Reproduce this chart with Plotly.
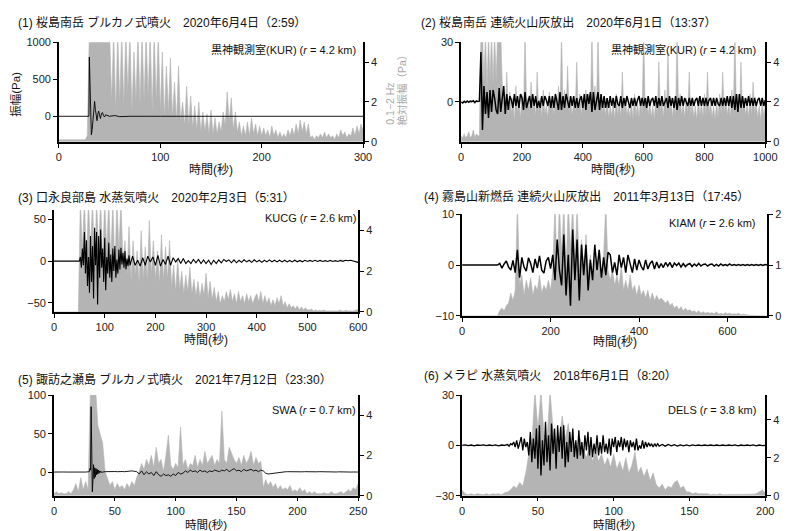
import numpy as np
import plotly.graph_objects as go

FONT = "Liberation Sans, Noto Sans CJK JP, sans-serif"
GRAY = "#b4b4b4"

# ---------------- titles / labels ----------------
TITLES = [
    "(1) 桜島南岳 ブルカノ式噴火　2020年6月4日（2:59）",
    "(2) 桜島南岳 連続火山灰放出　2020年6月1日（13:37）",
    "(3) 口永良部島 水蒸気噴火　2020年2月3日（5:31）",
    "(4) 霧島山新燃岳 連続火山灰放出　2011年3月13日（17:45）",
    "(5) 諏訪之瀬島 ブルカノ式噴火　2021年7月12日（23:30）",
    "(6) メラピ 水蒸気噴火　2018年6月1日（8:20）",
]
STATIONS = [
    "黒神観測室(KUR) (<i>r</i> = 4.2 km)",
    "黒神観測室(KUR) (<i>r</i> = 4.2 km)",
    "KUCG (<i>r</i> = 2.6 km)",
    "KIAM (<i>r</i> = 2.6 km)",
    "SWA (<i>r</i> = 0.7 km)",
    "DELS (<i>r</i> = 3.8 km)",
]
XTITLE = "時間(秒)"
YTITLE_LEFT = "振幅(Pa)"
YTITLE_RIGHT_1 = "0.1−2 Hz"
YTITLE_RIGHT_2 = "絶対振幅（Pa）"

# ---------------- axis ticks ----------------
X_TICKS = [[0, 100, 200, 300], [0, 200, 400, 600, 800, 1000], [0, 100, 200, 300, 400, 500, 600],
           [0, 200, 400, 600], [0, 50, 100, 150, 200, 250], [0, 50, 100, 150, 200]]
X_RANGES = [[0, 300], [0, 1000], [0, 600], [0, 690], [0, 250], [0, 200]]
WAVE_TICKS = [[0, 500, 1000], [0, 30], [-50, 0, 50], [-10, 0, 10], [0, 50, 100], [-30, 0, 30]]
WAVE_RANGES = [[-345, 1000], [-20, 30], [-61, 61], [-10, 10], [-30, 100], [-30, 30]]
ENV_TICKS = [[0, 2, 4], [0, 2, 4], [0, 2, 4], [0, 1, 2], [0, 2, 4], [0, 2, 4]]
ENV_RANGES = [[0, 5], [0, 5], [0, 5], [0, 2], [0, 5], [0, 5.3]]

# ---------------- data: 0.1-2 Hz absolute amplitude (gray, right axis) ----------------
P1_ENV_DT = 2.0
P1_ENV = [0.1]*14 + [0.3] + [5.5]*10 + [
    5.5, 2, 5.5, 1.5, 5.5, 2, 5.5, 1.8, 5.5, 2.5, 5.5, 1.5, 4.5, 2, 5.5, 1.8, 5.5, 2, 5.5, 2.2, 5.5, 1.5, 5.5, 2, 5.5, 1.5,
    4.5, 1.2, 3.8, 1.5, 4.2, 1.2, 3.0, 1.0, 3.8, 1.0, 2.0, 0.8, 2.8, 0.8, 2.3, 0.7, 1.8, 0.6, 2.0, 0.5, 1.5, 0.5, 1.4, 0.4,
    1.6, 0.4, 1.2, 0.4, 1.0, 0.5, 1.5, 0.8, 2.5, 1.0, 2.2, 0.6, 1.5, 0.5, 1.0, 0.3, 0.8, 0.3, 1.0, 0.3, 1.2, 0.4, 0.9, 0.3,
    0.8, 0.3, 0.7, 0.3, 0.6, 0.2, 0.8, 0.3, 0.6, 0.2, 0.5, 0.2, 0.4, 0.2, 0.6, 0.3, 0.7, 0.3, 0.9, 0.4, 1.1, 0.5, 1.0, 0.4,
    0.9, 0.2, 0.3, 0.1, 0.3, 0.2, 0.4, 0.2, 0.5, 0.2, 0.4, 0.2, 0.3, 0.1, 0.4, 0.2, 0.6, 0.3, 0.5, 0.2, 0.4, 0.3, 0.7, 0.3,
    0.8, 0.4, 0.9, 0.6]

P2_ENV_DT = 5.0
P2_ENV = [0.3, 0.2, 0.4, 0.2, 0.3, 0.5, 0.2, 0.3, 0.6, 0.2, 0.4, 0.3, 0.3,
          5.5, 5.5, 3, 5.5, 2.5, 5.5, 3, 5.5, 2.8, 5.5, 3, 5.5, 5.5, 5.5, 3,
          2.0, 1.5, 3.5, 1.2, 2.5, 1.4, 2.2, 1.0, 2.8, 1.5, 2.0, 1.2, 2.4, 1.3, 5.5, 1.8, 2.2, 1.5, 3.0, 1.6,
          2.0, 1.3, 3.5, 1.5, 2.2, 1.2, 2.6, 1.4, 1.8, 1.2, 2.5, 1.6, 2.0, 1.3, 2.4, 1.5, 2.8, 1.4, 5.5, 1.8,
          2.6, 1.5, 3.8, 1.4, 2.2, 1.3, 2.0, 1.5, 4.0, 1.6, 2.4, 1.3, 2.2, 1.5, 2.6, 1.8, 2.4, 1.5, 5.5, 2.0,
          2.8, 1.6, 5.5, 1.8, 2.4, 1.4, 2.0, 1.3, 2.2, 1.2, 1.8, 1.3, 2.0, 1.1, 2.4, 1.3, 2.0, 1.2, 3.5, 1.4,
          2.2, 1.3, 1.8, 1.2, 2.0, 1.1, 2.4, 1.3, 1.9, 1.2, 2.2, 1.4, 5.5, 1.6, 2.2, 1.3, 2.0, 1.2, 1.8, 1.1,
          2.2, 1.3, 4.0, 1.5, 2.0, 1.2, 2.6, 1.3, 4.5, 1.4, 2.2, 1.2, 2.0, 1.3, 5.5, 1.5, 2.4, 1.3, 2.0, 1.2,
          2.2, 1.4, 3.5, 1.3, 2.0, 1.2, 1.8, 1.1, 2.2, 1.3, 2.0, 1.2, 2.4, 1.3, 3.5, 1.4, 2.0, 1.2, 1.8, 1.1,
          2.0, 1.2, 2.4, 1.3, 3.5, 1.4, 2.2, 1.3, 2.0, 1.2, 2.6, 1.4, 5.5, 1.6, 2.4, 1.3, 4.0, 1.4, 2.2, 1.3,
          2.0, 1.2, 2.4, 1.3, 3.0, 1.4, 2.0, 1.2, 1.8, 1.1, 2.0, 1.3, 1.8]

P3_ENV_DT = 4.0
P3_ENV = [0]*13 + [
    5.5, 3, 5.5, 2.5, 5.5, 3, 5.5, 2, 5.5, 3, 5.5, 2.5, 5.5, 3, 5.5, 2.5, 5.5, 2, 5.5, 3, 5.5, 2.5,
    3.5, 1.8, 4.2, 1.5, 3.5, 1.8, 3.0, 1.4, 4.0, 1.6, 3.2, 1.5, 4.5, 1.8, 3.5, 1.6, 3.0, 1.4, 3.8, 1.5, 3.2, 1.6, 3.5,
    1.2, 2.3, 1.0, 2.6, 1.1, 2.0, 0.9, 1.8, 1.0, 2.2, 0.9, 1.6, 0.8, 1.5, 0.7, 1.4, 0.8, 1.9,
    0.7, 1.5, 0.6, 1.2, 0.5, 1.0, 0.4, 0.8, 0.5, 1.0, 0.6, 1.1, 0.5, 0.9, 0.4, 1.0, 0.5, 0.8, 0.4, 0.9, 0.5, 0.8, 0.4, 0.7, 0.9,
    0.5, 1.0, 0.4, 0.8, 0.4, 0.7, 0.3, 0.6, 0.3, 0.7, 0.4, 0.8, 0.3, 0.5, 0.2, 0.4, 0.2, 0.3, 0.15, 0.3, 0.1, 0.25, 0.1, 0.2, 0.1,
    0.1, 0.15, 0.05, 0.1, 0.05, 0.08, 0.05, 0.1, 0.05, 0.05, 0.05, 0.08, 0.05, 0.05, 0.05, 0.1, 0.05, 0.05, 0.08, 0.05, 0.05, 0.08, 0.05, 0.1, 0.1]

P4_ENV_DT = 5.0
P4_ENV = [0]*17 + [
    0.1, 0.15, 0.1, 0.2, 0.25, 0.45, 0.3, 0.5, 2.2, 0.6,
    0.8, 0.4, 0.7, 0.5, 0.75, 0.4, 0.6, 0.5, 0.8, 0.45, 0.6, 0.5, 0.7, 0.5, 0.9,
    2.2, 0.8, 2.2, 1.2, 2.2, 0.9, 2.2, 1.3, 2.2, 1.0, 2.2, 0.9, 1.5, 0.8, 1.6, 0.9, 1.2, 0.7, 1.1, 0.8, 1.3, 0.7, 1.2, 2.2, 0.9,
    0.7, 0.9, 0.6, 0.8, 0.6, 1.0, 0.5, 0.7, 0.5, 0.8, 0.5, 0.6, 0.4, 0.6, 0.4, 0.5, 0.35, 0.5, 0.3, 0.45, 0.3, 0.4, 0.3, 0.35,
    0.3, 0.25, 0.3, 0.2, 0.25, 0.15, 0.2, 0.12, 0.18, 0.1, 0.15, 0.1, 0.12, 0.08, 0.1, 0.06, 0.1, 0.05, 0.08, 0.05, 0.07, 0.05,
    0.06, 0.04, 0.08, 0.03, 0.05, 0.03, 0.06, 0.04, 0.05, 0.03, 0.04, 0.03, 0.05, 0.02, 0.03, 0.02, 0.02, 0.01, 0.01, 0.01, 0.01, 0, 0, 0, 0, 0]

P5_ENV_DT = 2.0
P5_ENV = [0.1, 0.2, 0.1, 0.15, 0.1, 0.1, 0.2, 0.1, 0.3, 0.6, 0.2, 0.9, 0.3, 0.7, 0.3,
          5.5, 5.5, 5.5, 3.5, 3.0, 2.6, 1.2, 0.8, 0.5, 0.7,
          0.3, 0.6, 0.4, 0.5, 0.3, 0.6, 0.4, 0.7, 0.5, 0.9,
          1.2, 1.6, 1.3, 1.8, 1.5, 2.0, 1.4, 2.4, 1.6, 1.8, 1.2, 2.0, 3.0, 1.5, 1.3,
          1.6, 1.4, 3.4, 1.5, 1.8, 1.3, 1.6, 1.5, 2.0, 1.4, 1.8, 1.5, 2.2, 1.6, 1.8,
          2.0, 1.5, 1.8, 1.6, 4.2, 1.8, 1.6, 2.4, 2.1, 1.8, 1.6, 1.9, 1.5, 2.0, 1.6,
          1.8, 2.2, 1.5, 1.9, 1.6, 1.7, 0.4, 0.8, 0.5, 0.7, 0.4, 0.6, 0.3, 0.5, 0.3,
          0.4, 0.3, 0.5, 0.2, 0.3, 0.2, 0.4, 0.2, 0.3, 0.1, 0.2, 0.1, 0.2, 0.1, 0.1,
          0.1, 0.15, 0.1, 0.1, 0.2, 0.1, 0.1, 0.15, 0.2, 0.1, 0.2, 0.3, 0.2, 0.4, 0.3, 0.6]

P6_ENV_DT = 2.0
P6_ENV = [0.3, 0.1, 0.05, 0.1, 0.05, 0.1, 0.08, 0.05, 0.1, 0.05, 0.1, 0.08, 0.1, 0.05, 0.15,
          0.2, 0.3, 0.5, 0.4, 0.7, 0.5, 1.2, 2.2, 2.8, 5.5,
          3.5, 5.5, 3.2, 3.0, 5.5, 3.5, 3.0, 2.8, 4.2, 3.0,
          3.8, 2.6, 2.8, 2.2, 3.0, 2.4, 2.0, 2.6, 1.8, 2.4, 1.8, 2.2, 1.6, 2.0, 1.5,
          2.2, 1.4, 1.8, 1.3, 2.0, 1.2, 1.6, 2.3, 1.2, 1.5, 1.0, 1.4, 0.8, 1.2, 0.6,
          0.4, 0.6, 0.3, 0.5, 0.4, 0.7, 0.8, 0.4, 0.5, 0.2, 0.2, 0.1, 0.15, 0.1, 0.1,
          0.08, 0.1, 0.05, 0.08, 0.05, 0.1, 0.05, 0.05, 0.08, 0.05, 0.05, 0.05, 0.08, 0.05, 0.05,
          0.05, 0.08, 0.1, 0.2, 0.3, 0.15]

# ---------------- data: pressure waveforms (black, left axis) ----------------
P1_WAVE_T = [0, 29, 29.6, 30, 30.6, 31.2, 32, 32.8, 33.6, 34.4, 35.2, 36, 36.8, 37.6, 38.4, 39.2, 40, 41, 42, 43,
             44, 45, 46, 48, 50, 55, 60, 70, 80, 90, 100, 300]
P1_WAVE = [0, 0, 0, 800, 350, -100, -250, -180, -20, 120, 200, 90, -40, -60, 30, 70, 20, -30, 40, 50,
           10, -10, 20, 5, 0, 10, -5, 0, 5, 0, 0, 0]

P2_WAVE_DT = 5.0
P2_WAVE = [0, -0.5, 0.3, -0.3, 0.5, -0.2, 0.4, 0.2, 0.6, -0.3, 0.5, 0.2, 0.4, 25, -14, 8, -6, 5, -8, 6,
           -5, 6, 2, -4, -6, 7, -5, 1, 8, -6, 4, -4, 3, 1, -3, 4, -2, 3, -3, 4,
           2, -4, 5, -3, 1, 3, -3, 4, -2, 3, -3, 0.5, -3, 3, -2, 3, 1, -2, 3, -3,
           3, -3, 4, -1, -4, 5, -4, 3, -3, 4, 1, -3, 3, -2, 3, -3, 2, -3, 1, 3,
           -3, 4, -4, 4, -1, 5, -5, 5, -4, 1, 5, -4, 4, -3, 3, -3, 2, -3, 3, -2,
           2, -3, 3, -1, -2, 3, -3, 2, -2, 3, 0, -3, 2, -2, 2, -2, 1, 3, -2, 2,
           -2, 2, -3, 3, -2, 1, 2, -2, 3, -3, 2, -2, 3, -2, 0, 2, -3, 3, -2, 2,
           -3, 3, -4, 2, -2, 3, -2, 2, 0, -2, 2, -2, 2, -2, 1, 2, -2, 3, -2, 2,
           -2, 2, -2, 1, 2, -2, 2, -2, 2, -1, -2, 2, -2, 2, -2, 3, -2, 3, -3, 3,
           -4, 4, -5, 4, -3, 3, -3, 2, -2, 3, -2, 2, -2, 2, -2, 1, 2, -2, 2, -2, 1]

P3_WAVE_PRE_T = [0, 48]
P3_WAVE_PRE = [0, 0]
P3_WAVE_A_START, P3_WAVE_A_DT = 50.0, 2.0
P3_WAVE_A = [0, 5, -8, 15, -5, 35, -15, 25, -30, 5, -38, 30, -25, 18, -45, 40, -5, 35, -52, 30,
             -20, 38, -8, 15, -25, 28, -35, 5, -15, 22, -20, 8, -25, 15, -12, 18, -20, 2, -15, 14,
             -10, 16, -4, 10, -8, 12, -10, 3, -6, 7, -5]
P3_WAVE_B_START, P3_WAVE_B_DT = 155.0, 5.0
P3_WAVE_B = [6, -5, 1, -6, 4, -5, 6, -1, 5, -5, 7, -6, 2, -4, 6, -5, 4, -1, 3, -3,
             3, -3, 0.5, -3, 2, -2, 2, -3, 1.5, -3, 1, -4, 1, -3, 1.5, -2, 2, -0.5, 1.5, -2,
             1.5, -2, 1, -1.5, 1.5, -1, 1, -1.5, 1.5, -1, 1, -1.5, 1, -1, 1.5, -1, 1, -1, 1, -1,
             1, -1, 0.8, -1, 1, -0.8, 0.8, -0.8, 1, -0.5, 0.8, -0.5, 1, -0.5, 0.8, -0.5, 0.5, -0.5, 0.8, -0.5,
             0.5, -0.5, 0.8, -0.3, 1, 0.5, 1, 0, -1, -1.5]

P4_WAVE_DT = 5.0
P4_WAVE = [0]*17 + [
    0.3, -0.6, 0.2, 0.8, -0.4, -1, 0.9, -1.5, 3, -2.5,
    1.5, -0.4, -1.2, 1.4, 0.3, -1.5, 1.2, -0.6, 1.8, -1, -1.6, 0.8, 1.5, -0.7, 2,
    -3, 5, -1, -4, 6, -6, 2, -8, 7, -3, 5, -7, 4, -2, 4, -5, 1, -3, 4, -1, 3, -2.5, 1.5, -2, 2.5,
    2, -1.5, 0.5, -2, 2, -0.5, 1.5, -1.5, 2, 0.3, -1.5, 1.2, -1, 1, -0.3, -1, 1, -0.8, 0.3, 0.8, -0.8, 0.6, -0.6, 0.3,
    -0.5, 0.5, -0.2, 0.5, -0.5, 0.4, -0.1, 0.4, -0.4, 0.3, -0.3, 0.1, 0.3, -0.3, 0.2, -0.2, 0.3, -0.2, 0.1, 0.2, -0.2, 0.1,
    0.2, -0.2, 0.1, -0.2, 0.2, -0.1, 0.1, -0.1, 0.2, -0.1, 0.1, -0.1, 0.1, -0.1, 0.1, -0.1, 0.1, -0.1, 0.1, -0.1, 0.1, -0.1, 0.1, -0.1, 0.1, 0]

P5_WAVE_0_START, P5_WAVE_0_DT = 0.0, 2.0
P5_WAVE_0 = [0.5, 0.3, 0.5, 0.4, 0.6, 0.5, 0.4, 0.5, 0.6, 0.5, 0.4, 0.5, 0.6, 0.5, 0.8]
P5_WAVE_1_START, P5_WAVE_1_DT = 29.0, 0.5
P5_WAVE_1 = [1, 5, 3, 85, 40, -25, -10, 10, -8, 6, -6, 5, -3, 4, -2, 3, -1, 2, 0, 1.5, 0, 1, 0.5]
P5_WAVE_2_START, P5_WAVE_2_DT = 42.0, 2.0
P5_WAVE_2 = [1, 1.2, 1, 1.5, 1.2, 1, 1.5, 1.2, 1, 1.5, 1.5, 2, 1.5, 1, -2, 2, -3, 1, -2, 0,
             -4, 1, -3, -5, -2, -4, -3, -5, -2, -4, 0, -2, -1, 2, 0, 3, 1, 2, 0, 3,
             1, 2, 0, 2, 1, 3, 2, 1, 3, 2, 4, 1, 3, 5, 2, 3, 1, 4, 2, 3,
             4, 2, 3, 1, 3, 2, -1, -2, -1.5, -1, -0.5, 0, 0.5, 0.5, 0.8, 1, 0.8, 1, 0.8, 1,
             1, 0.8, 1, 0.8, 1, 0.8, 1, 0.8, 1, 0.8, 1, 0.8, 1, 0.8, 0.8, 0.6, 0.8, 0.6, 0.8, 0.6, 0.6, 0.5, 0.6, 0.5, 0.5]

P6_WAVE_0_START, P6_WAVE_0_DT = 0.0, 2.0
P6_WAVE_0 = [0, 0.3, -0.2, 0.2, -0.3, 0.2, 0, 0.3, -0.2, 0.2, -0.2, 0.3, -0.3, 0.2, 0]
P6_WAVE_1_START, P6_WAVE_1_DT = 30.0, 1.0
P6_WAVE_1 = [0.5, -0.5, 1, 0.3, 2, -1, 3, -2, 1, 5, -3, 4, -1, 2, -6, 8, -10, 4, -8, 10,
             -14, 12, -18, 3, -12, 14, -10, 6, -15, 13, -5, 10, -14, 12, -4, 11, -8, 12, -13, 2,
             -10, 8, -4, 10, -7, 3, -8, 9, -6, 2, -8, 6, -3, 8, -6, 5, -7, 1, -5, 6,
             -6, 2, -5, 6, -4, 1, -5, 4, -6, 4, -1, 5, -4, 3, -1, 5, -3, 4, -1, 3,
             -4, 3, -1, 2, -3, 4, -3, 0, -2, 3, -2, 2, -1, 1.5, -0.5, 1, -1, 1, -0.5, 1,
             -0.5]
P6_WAVE_2_START, P6_WAVE_2_DT = 132.0, 2.0
P6_WAVE_2 = [0.5, -0.5, 0.5, -0.3, 0.4, -0.4, 0.3, -0.3, 0.3, -0.3, 0.3, -0.2, 0.2, -0.2, 0.2, -0.2, 0.2, -0.2,
             0.2, -0.2, 0.2, -0.2, 0.2, -0.2, 0.3, -0.3, 0.2, -0.2, 0.2, -0.2, 0.3, -0.3, 0.2, -0.2, 0]


def sampled(values, start, dt):
    return list(start + dt * np.arange(len(values))), list(values)


def concat(*segs):
    xs, ys = [], []
    for x, y in segs:
        xs += list(x)
        ys += list(y)
    return xs, ys


ENV = [sampled(P1_ENV, 0, P1_ENV_DT), sampled(P2_ENV, 0, P2_ENV_DT), sampled(P3_ENV, 0, P3_ENV_DT),
       sampled(P4_ENV, 0, P4_ENV_DT), sampled(P5_ENV, 0, P5_ENV_DT), sampled(P6_ENV, 0, P6_ENV_DT)]
WAVE = [
    (P1_WAVE_T, P1_WAVE),
    sampled(P2_WAVE, 0, P2_WAVE_DT),
    concat((P3_WAVE_PRE_T, P3_WAVE_PRE), sampled(P3_WAVE_A, P3_WAVE_A_START, P3_WAVE_A_DT),
           sampled(P3_WAVE_B, P3_WAVE_B_START, P3_WAVE_B_DT)),
    sampled(P4_WAVE, 0, P4_WAVE_DT),
    concat(sampled(P5_WAVE_0, P5_WAVE_0_START, P5_WAVE_0_DT), sampled(P5_WAVE_1, P5_WAVE_1_START, P5_WAVE_1_DT),
           sampled(P5_WAVE_2, P5_WAVE_2_START, P5_WAVE_2_DT)),
    concat(sampled(P6_WAVE_0, P6_WAVE_0_START, P6_WAVE_0_DT), sampled(P6_WAVE_1, P6_WAVE_1_START, P6_WAVE_1_DT),
           sampled(P6_WAVE_2, P6_WAVE_2_START, P6_WAVE_2_DT)),
]
WAVE_WIDTH = [0.9, 1.5, 1.1, 1.5, 0.9, 1.3]

# ---------------- layout (pixel boxes of each panel) ----------------
W, H = 792, 531
BOXES = [(57, 367, 37, 139), (467, 777, 37, 139), (52, 362, 209, 313),
         (468, 779, 213, 317), (52, 362, 398, 501), (468, 777, 398, 501)]
TITLE_POS = [(13, 17), (424, 17), (13, 196), (427, 195), (13, 382), (427, 378)]
STATION_POS = [(362, 44), (770, 44), (362, 217), (770, 222), (362, 413), (770, 413)]
XTITLE_Y = [168, 168, 342, 344, 530, 530]
XTITLE_SIZE = [12, 12, 12, 12, 11.5, 11.5]


def px(x):
    return x / W


def py(y):
    return 1 - y / H


fig = go.Figure()
layout = dict(width=W, height=H, margin=dict(l=0, r=0, t=0, b=0), showlegend=False,
              paper_bgcolor="white", plot_bgcolor="rgba(0,0,0,0)",
              font=dict(family=FONT, size=11, color="#222"))
axis_common = dict(showgrid=False, zeroline=False, showline=True, linecolor="black", linewidth=1.6,
                   ticks="outside", ticklen=4, tickwidth=1, tickcolor="black",
                   tickfont=dict(family=FONT, size=11, color="#222"))
annotations = []
for k in range(6):
    xa = "x" if k == 0 else f"x{k + 1}"
    yg = "y" if k == 0 else f"y{2 * k + 1}"
    yw = f"y{2 * k + 2}"
    x0, x1, y0, y1 = BOXES[k]
    ex, ey = ENV[k]
    fig.add_trace(go.Scatter(x=ex, y=ey, xaxis=xa, yaxis=yg, mode="lines",
                             line=dict(color=GRAY, width=0.6), fill="tozeroy", fillcolor=GRAY,
                             hoverinfo="skip"))
    wx, wy = WAVE[k]
    fig.add_trace(go.Scatter(x=wx, y=wy, xaxis=xa, yaxis=yw, mode="lines",
                             line=dict(color="black", width=WAVE_WIDTH[k]), hoverinfo="skip"))
    layout["xaxis" if k == 0 else f"xaxis{k + 1}"] = dict(
        axis_common, domain=[px(x0), px(x1)], anchor=yg, range=X_RANGES[k], tickvals=X_TICKS[k])
    layout["yaxis" if k == 0 else f"yaxis{2 * k + 1}"] = dict(
        axis_common, domain=[py(y1), py(y0)], anchor=xa, side="right", range=ENV_RANGES[k],
        tickvals=ENV_TICKS[k])
    layout[f"yaxis{2 * k + 2}"] = dict(
        axis_common, overlaying=yg, anchor=xa, side="left", range=WAVE_RANGES[k],
        tickvals=WAVE_TICKS[k], ticktext=[str(v).replace("-", "−") for v in WAVE_TICKS[k]])
    tx, ty = TITLE_POS[k]
    annotations.append(dict(text=TITLES[k], x=px(tx), y=py(ty), xref="paper", yref="paper",
                            xanchor="left", yanchor="middle", showarrow=False,
                            font=dict(family=FONT, size=12, color="#111")))
    sx, sy = STATION_POS[k]
    annotations.append(dict(text=STATIONS[k], x=px(sx), y=py(sy), xref="paper", yref="paper",
                            xanchor="right", yanchor="middle", showarrow=False,
                            font=dict(family=FONT, size=11, color="#111")))
    annotations.append(dict(text=XTITLE, x=px((x0 + x1) / 2), y=py(XTITLE_Y[k]), xref="paper", yref="paper",
                            xanchor="center", yanchor="middle", showarrow=False,
                            font=dict(family=FONT, size=XTITLE_SIZE[k], color="#111")))

annotations.append(dict(text=YTITLE_LEFT, x=px(13), y=py(90), xref="paper", yref="paper",
                        xanchor="center", yanchor="middle", textangle=-90, showarrow=False,
                        font=dict(family=FONT, size=11.5, color="#111")))
annotations.append(dict(text=YTITLE_RIGHT_1, x=px(395), y=py(124), xref="paper", yref="paper",
                        xanchor="center", yanchor="bottom", textangle=-90, showarrow=False,
                        font=dict(family=FONT, size=10.5, color="#aaaaaa")))
annotations.append(dict(text=YTITLE_RIGHT_2, x=px(407), y=py(124), xref="paper", yref="paper",
                        xanchor="center", yanchor="bottom", textangle=-90, showarrow=False,
                        font=dict(family=FONT, size=10.5, color="#aaaaaa")))
layout["annotations"] = annotations
fig.update_layout(**layout)
fig.write_html("out.html", config={"displayModeBar": False},
               post_script="document.body.style.margin='0';")
